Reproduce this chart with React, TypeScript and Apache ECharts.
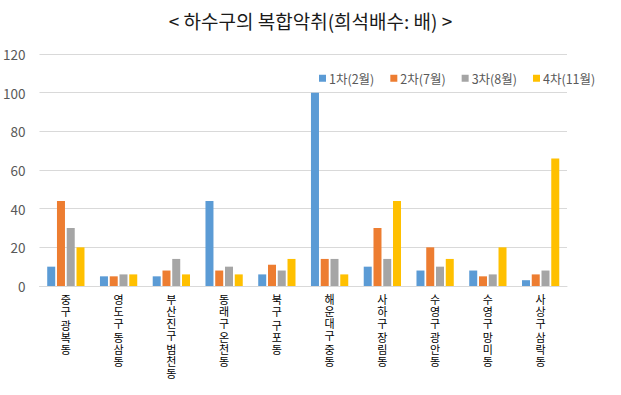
import React, { useEffect, useRef } from "react";
import * as echarts from "echarts";

const categories = [
  "중구 광복동",
  "영도구 동삼동",
  "부산진구 범천동",
  "동래구 온천동",
  "북구 구포동",
  "해운대구 중동",
  "사하구 장림동",
  "수영구 광안동",
  "수영구 망미동",
  "사상구 삼락동",
];
const seriesNames = ["1차(2월)", "2차(7월)", "3차(8월)", "4차(11월)"];
const round1 = [10, 5, 5, 44, 6, 100, 10, 8, 8, 3];
const round2 = [44, 5, 8, 8, 11, 14, 30, 20, 5, 6];
const round3 = [30, 6, 14, 10, 8, 14, 14, 10, 6, 8];
const round4 = [20, 6, 6, 6, 14, 6, 44, 14, 20, 66];
const colors = ["#5b9bd5", "#ed7d31", "#a5a5a5", "#ffc000"];
const yTicks = { min: 0, max: 120, interval: 20 };
const titleText = "< 하수구의 복합악취(희석배수: 배) >";

const FONT = "'Noto Sans CJK KR', 'Noto Sans', sans-serif";

export default function App() {
  const ref = useRef<HTMLDivElement>(null);
  useEffect(() => {
    document.body.style.margin = "0";
    const chart = echarts.init(ref.current!, undefined, { renderer: "svg" });
    const data = [round1, round2, round3, round4];
    chart.setOption({
      animation: false,
      backgroundColor: "#ffffff",
      textStyle: { fontFamily: FONT },
      title: {
        text: titleText,
        left: "center",
        top: 6,
        textStyle: { fontSize: 19, fontWeight: "normal", color: "#1a1a1a", fontFamily: FONT },
      },
      legend: {
        left: 314,
        top: 67,
        itemWidth: 7,
        itemHeight: 7,
        itemGap: 16,
        icon: "rect",
        textStyle: { fontSize: 12.5, color: "#595959", fontFamily: FONT, padding: [0, 0, 0, -2] },
        data: seriesNames,
      },
      grid: { left: 37, right: 54, top: 54, bottom: 109, containLabel: false },
      xAxis: {
        type: "category",
        data: categories,
        axisLine: { lineStyle: { color: "#d9d9d9" } },
        axisTick: { show: false },
        axisLabel: {
          interval: 0,
          margin: 7,
          verticalAlign: "top",
          formatter: (v: string) =>
            v
              .split("")
              .map((c) => (c === " " ? "{s| }" : "{c|" + c + "}"))
              .join("\n"),
          rich: {
            c: { fontSize: 11, lineHeight: 12, color: "#000000", fontFamily: FONT },
            s: { fontSize: 2, lineHeight: 2 },
          },
        },
      },
      yAxis: {
        type: "value",
        min: yTicks.min,
        max: yTicks.max,
        interval: yTicks.interval,
        axisLine: { show: false },
        axisTick: { show: false },
        splitLine: { lineStyle: { color: "#d9d9d9" } },
        axisLabel: { fontSize: 13.5, color: "#595959", margin: 14, fontFamily: FONT },
      },
      series: seriesNames.map((name, i) => ({
        name,
        type: "bar",
        data: data[i],
        barWidth: 8,
        barGap: "22%",
        itemStyle: { color: colors[i] },
      })),
    });
    return () => chart.dispose();
  }, []);
  return (
    <div
      ref={ref}
      style={{ width: 621, height: 395, position: "absolute", left: 0, top: 0 }}
    />
  );
}
